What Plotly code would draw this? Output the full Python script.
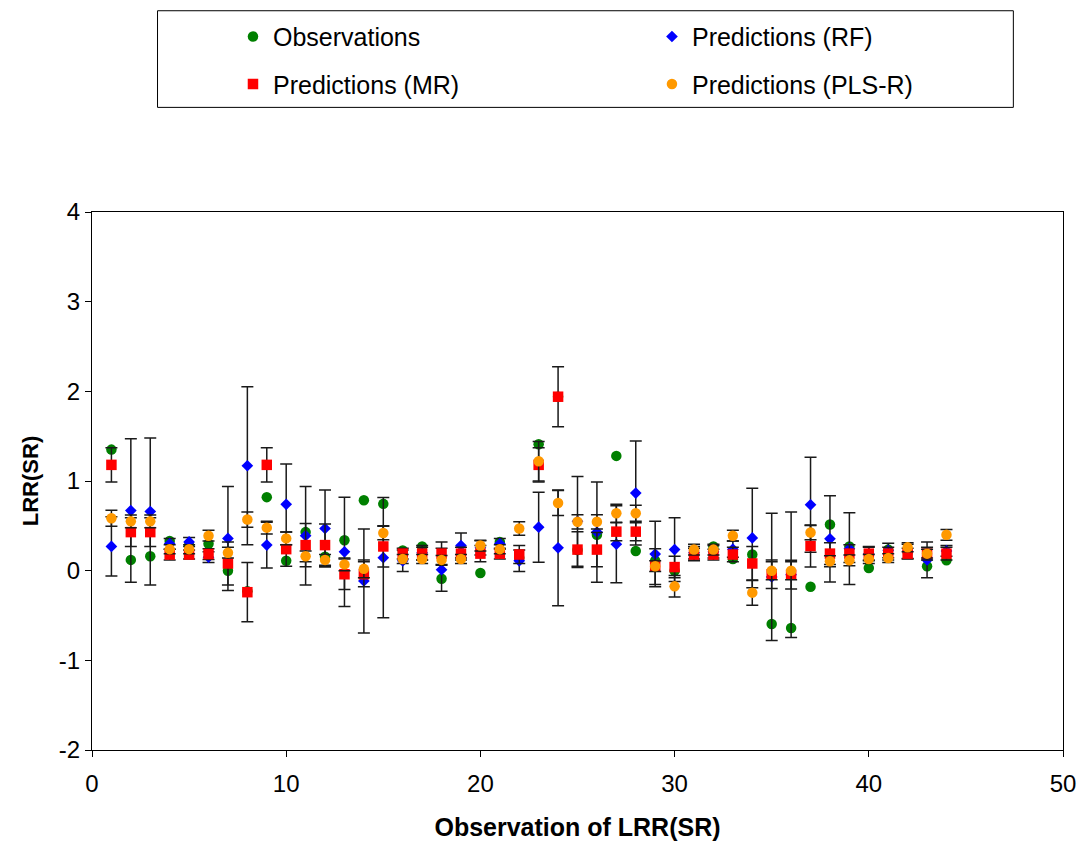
import plotly.graph_objects as go

# Observation index
obs_idx = list(range(1, 45))

# Observed LRR(SR)
observations = [1.35, 0.12, 0.16, 0.33, 0.28, 0.30, 0.00, -0.23, 0.82, 0.11,
                0.43, 0.155, 0.34, 0.785, 0.745, 0.225, 0.27, -0.09, 0.145, -0.026,
                0.32, 0.145, 1.41, 1.94, 0.23, 0.40, 1.28, 0.22, 0.11, 0.00,
                0.20, 0.27, 0.13, 0.18, -0.595, -0.64, -0.18, 0.515, 0.27, 0.03,
                0.235, 0.21, 0.05, 0.115]

# Random forest predictions and their errors
pred_rf = [0.27, 0.67, 0.66, 0.30, 0.32, 0.15, 0.36, 1.17, 0.285, 0.74,
           0.39, 0.47, 0.21, -0.115, 0.145, 0.11, 0.20, 0.01, 0.28, 0.255,
           0.30, 0.11, 0.485, 0.255, 0.55, 0.43, 0.295, 0.865, 0.185, 0.235,
           0.20, 0.21, 0.24, 0.365, -0.07, -0.045, 0.735, 0.355, 0.245, 0.19,
           0.225, 0.215, 0.12, 0.22]
err_rf = [0.33, 0.80, 0.82, 0.06, 0.05, 0.06, 0.58, 0.88, 0.255, 0.45,
          0.55, 0.43, 0.61, 0.58, 0.67, 0.12, 0.08, 0.24, 0.14, 0.08,
          0.06, 0.12, 0.39, 0.645, 0.50, 0.56, 0.43, 0.58, 0.365, 0.355,
          0.07, 0.07, 0.09, 0.555, 0.71, 0.70, 0.53, 0.48, 0.40, 0.08,
          0.08, 0.08, 0.20, 0.06]

# Multiple regression predictions and their errors
pred_mr = [1.18, 0.43, 0.43, 0.18, 0.18, 0.185, 0.08, -0.24, 1.18, 0.24,
           0.285, 0.285, -0.04, -0.04, 0.27, 0.19, 0.19, 0.19, 0.19, 0.19,
           0.19, 0.18, 1.18, 1.94, 0.235, 0.235, 0.435, 0.435, 0.045, 0.04,
           0.18, 0.18, 0.18, 0.08, -0.04, -0.045, 0.275, 0.19, 0.19, 0.19,
           0.19, 0.19, 0.19, 0.19]
err_mr = [0.19, 0.16, 0.16, 0.06, 0.05, 0.06, 0.24, 0.33, 0.19, 0.19,
          0.24, 0.235, 0.17, 0.14, 0.23, 0.06, 0.07, 0.13, 0.07, 0.09,
          0.06, 0.10, 0.19, 0.335, 0.20, 0.19, 0.10, 0.10, 0.20, 0.12,
          0.07, 0.06, 0.08, 0.19, 0.16, 0.16, 0.235, 0.12, 0.10, 0.07,
          0.07, 0.06, 0.07, 0.07]

# PLS regression predictions and their errors
pred_pls = [0.585, 0.55, 0.55, 0.24, 0.24, 0.39, 0.20, 0.57, 0.48, 0.36,
            0.16, 0.12, 0.07, 0.02, 0.42, 0.13, 0.13, 0.12, 0.13, 0.28,
            0.24, 0.47, 1.22, 0.755, 0.545, 0.545, 0.64, 0.64, 0.05, -0.175,
            0.235, 0.235, 0.39, -0.245, 0.0, 0.0, 0.425, 0.105, 0.115, 0.13,
            0.14, 0.26, 0.19, 0.40]
err_pls = [0.09, 0.07, 0.07, 0.05, 0.05, 0.06, 0.06, 0.085, 0.07, 0.07,
           0.06, 0.06, 0.07, 0.10, 0.075, 0.05, 0.05, 0.05, 0.05, 0.06,
           0.05, 0.075, 0.22, 0.14, 0.08, 0.08, 0.10, 0.09, 0.06, 0.12,
           0.06, 0.06, 0.06, 0.14, 0.10, 0.10, 0.08, 0.06, 0.06, 0.05,
           0.05, 0.05, 0.05, 0.06]

# Axis tick labels (plain hyphen for negatives)
x_ticks = [0, 10, 20, 30, 40, 50]
y_ticks = [-2, -1, 0, 1, 2, 3, 4]
y_ticktext = ["-2", "-1", "0", "1", "2", "3", "4"]

FONT = "Liberation Sans, Arial, sans-serif"

# Plot area in pixels
L, R, T, B = 92, 1070, 212, 752
PW, PH = R - L, B - T


def px_x(px):
    return (px - L) / PW


def px_y(py):
    return (B - py) / PH


def err_bar(values):
    return dict(type="data", array=values, visible=True,
                color="#1a1a1a", thickness=1.5, width=6)


fig = go.Figure()
fig.add_trace(go.Scatter(
    x=obs_idx, y=observations, mode="markers", name="Observations",
    legend="legend", legendgroup="obs",
    marker=dict(symbol="circle", size=10.5, color="#008000")))
fig.add_trace(go.Scatter(
    x=obs_idx, y=pred_rf, mode="markers", name="Predictions (RF)",
    legend="legend2", legendgroup="rf",
    error_y=err_bar(err_rf),
    marker=dict(symbol="diamond", size=9, color="#0000FF")))
fig.add_trace(go.Scatter(
    x=obs_idx, y=pred_mr, mode="markers", name="Predictions (MR)",
    legend="legend", legendgroup="mr",
    error_y=err_bar(err_mr),
    marker=dict(symbol="square", size=10.5, color="#FF0000")))
fig.add_trace(go.Scatter(
    x=obs_idx, y=pred_pls, mode="markers", name="Predictions (PLS-R)",
    legend="legend2", legendgroup="pls",
    error_y=err_bar(err_pls),
    marker=dict(symbol="circle", size=10.5, color="#FF9900")))

# Legend frame
fig.add_shape(type="rect", xref="paper", yref="paper",
              x0=px_x(158), x1=px_x(1020), y0=px_y(107), y1=px_y(10),
              line=dict(color="#000000", width=1), fillcolor="white", layer="below")

legend_style = dict(
    orientation="v", xanchor="left", yanchor="top", y=px_y(13),
    font=dict(family=FONT, size=25, color="black"),
    bgcolor="rgba(0,0,0,0)", borderwidth=0,
    tracegroupgap=12, itemsizing="trace",
)

fig.update_layout(
    width=1088, height=848,
    margin=dict(l=L, r=1088 - R, t=T, b=848 - B),
    paper_bgcolor="white", plot_bgcolor="white",
    font=dict(family=FONT, size=24, color="black"),
    showlegend=True,
    legend=dict(x=px_x(234), **legend_style),
    legend2=dict(x=px_x(656), **legend_style),
    xaxis=dict(
        range=[0, 50], tickvals=x_ticks,
        showline=True, linecolor="black", linewidth=1, mirror=True,
        ticks="outside", ticklen=6, tickcolor="black", ticklabelstandoff=6,
        showgrid=False, zeroline=False,
        tickfont=dict(family=FONT, size=24),
        title=dict(text="<b>Observation of LRR(SR)</b>",
                   font=dict(family=FONT, size=25), standoff=22),
    ),
    yaxis=dict(
        range=[-2, 4], tickvals=y_ticks, ticktext=y_ticktext,
        showline=True, linecolor="black", linewidth=1, mirror=True,
        ticks="outside", ticklen=6, tickcolor="black",
        showgrid=False, zeroline=False,
        tickfont=dict(family=FONT, size=24),
        title=dict(text="<b>LRR(SR)</b>",
                   font=dict(family=FONT, size=22), standoff=14),
    ),
)

fig.write_html("out.html")
